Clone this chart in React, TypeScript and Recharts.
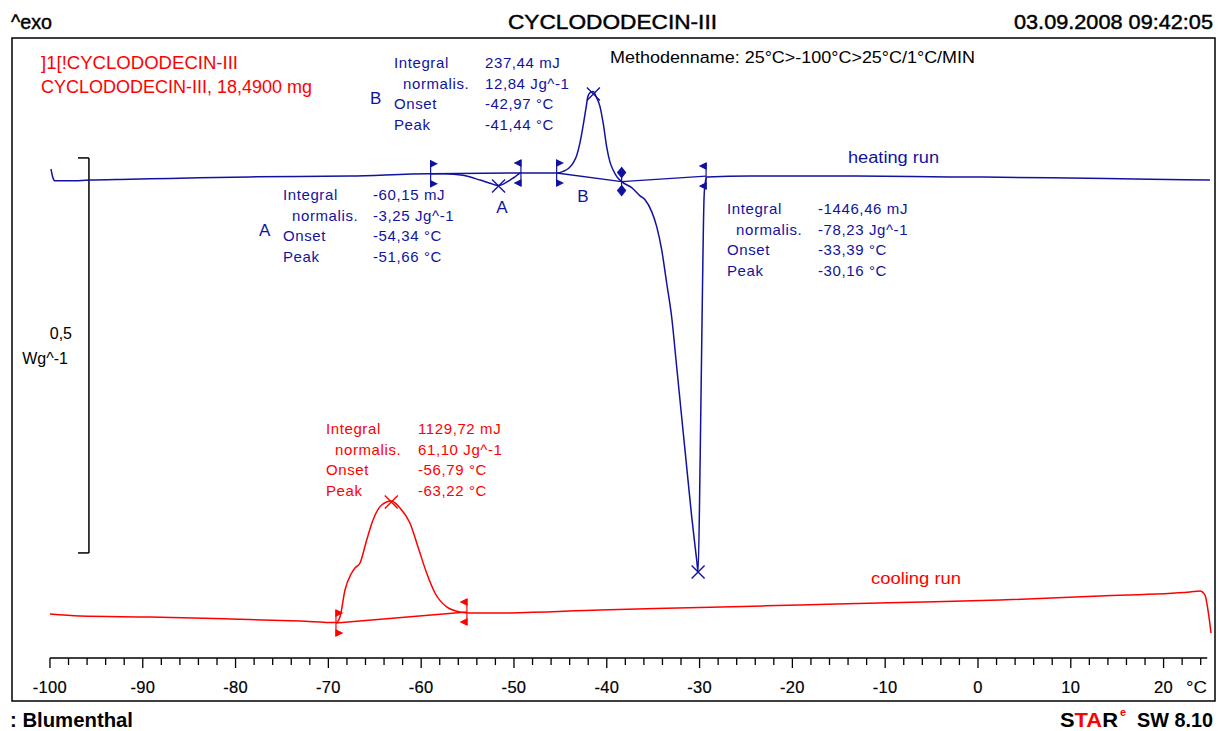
import { ComposedChart, Line, Scatter, XAxis, YAxis, ReferenceLine } from "recharts"

const W = 1218
const H = 731
// visible temperature window of the plot frame (°C) and signal window (W/g)
const X_MIN = -104.09
const X_MAX = 25.54
const Y_MAX = 0.7848

const BLUE = "#1212a0"
const RED = "#ff0000"
const FONT = "'Liberation Sans', Arial, sans-serif"

// heating run  [°C, W/g]
const heatingRun: [number, number][] = [
  [-99.89, 0.619], [-99.68, 0.608], [-99.46, 0.604], [-97.84, 0.604], [-95.8, 0.605],
  [-91.38, 0.606], [-87.07, 0.607], [-78.45, 0.609], [-67.67, 0.61], [-58.98, 0.613],
  [-57.44, 0.613], [-55.5, 0.611], [-53.66, 0.605], [-52.59, 0.601], [-51.66, 0.598],
  [-50.97, 0.601], [-50.43, 0.605], [-49.89, 0.609], [-49.25, 0.614], [-47.2, 0.614],
  [-45.4, 0.614], [-44.7, 0.616], [-44.1, 0.62], [-43.6, 0.627], [-43.24, 0.636], [-42.89, 0.652],
  [-42.56, 0.673], [-42.24, 0.696], [-42.03, 0.711], [-41.76, 0.716], [-41.44, 0.717],
  [-41.16, 0.711], [-40.73, 0.698], [-40.36, 0.675], [-40.01, 0.647], [-39.66, 0.628],
  [-39.33, 0.618], [-38.9, 0.609], [-38.4, 0.603], [-37.28, 0.595], [-36.42, 0.585],
  [-35.88, 0.58], [-35.16, 0.565], [-34.62, 0.546], [-34.08, 0.5165], [-33.55, 0.475],
  [-33.01, 0.432], [-32.47, 0.369], [-31.93, 0.305], [-31.39, 0.242], [-30.85, 0.179],
  [-30.31, 0.124], [-30.16, 0.109],
  [-29.94, 0.25], [-29.72, 0.44], [-29.51, 0.585], [-29.36, 0.604], [-29.2, 0.609],
  [-24.57, 0.61], [-13.79, 0.61], [-3.02, 0.609], [7.76, 0.608], [18.53, 0.606], [25.0, 0.605],
]

// cooling run  [°C, W/g]
const coolingRun: [number, number][] = [
  [-100, 0.0557], [-96.77, 0.0532], [-89.22, 0.0519], [-80.6, 0.0494], [-73.06, 0.0468],
  [-69.18, 0.0449], [-68.75, 0.0519], [-68.21, 0.0861], [-67.49, 0.1076], [-67.13, 0.1139],
  [-66.59, 0.1203], [-65.87, 0.1494], [-65.19, 0.1747], [-64.26, 0.1937], [-63.22, 0.1987],
  [-62.28, 0.1899], [-61.21, 0.1709], [-60.34, 0.1405], [-59.41, 0.1076], [-58.51, 0.0823],
  [-57.25, 0.0646], [-55.82, 0.0582], [-54.74, 0.057], [-51.51, 0.057], [-40.73, 0.0608],
  [-29.96, 0.0639], [-19.18, 0.0671], [-8.41, 0.0703], [2.37, 0.0734], [13.15, 0.0785],
  [22.84, 0.0835], [23.92, 0.0848], [24.46, 0.0797], [24.78, 0.0608], [25.11, 0.0316],
]

// integration baselines
const baselineA: [number, number][] = [[-58.98, 0.613], [-49.25, 0.614]]
const baselineB: [number, number][] = [[-45.4, 0.614], [-38.4, 0.603]]
const baselineC: [number, number][] = [[-38.4, 0.603], [-29.3, 0.61]]
const baselineCool: [number, number][] = [[-69.18, 0.0443], [-55.07, 0.0582]]

// peak markers and integration limits
const heatingPeaks: [number, number][] = [[-51.66, 0.5975], [-41.44, 0.714], [-30.16, 0.109]]
const coolingPeaks: [number, number][] = [[-63.22, 0.1975]]
const heatingLimits: [number, number, string][] = [
  [-58.98, 0.613, "r"], [-49.25, 0.614, "l"], [-45.4, 0.614, "r"], [-38.4, 0.603, "d"], [-29.3, 0.61, "l"],
]
const coolingLimits: [number, number, string][] = [[-69.18, 0.0443, "r"], [-55.07, 0.0582, "l"]]

const tableLabels = ["Integral", "normalis.", "Onset", "Peak"]
const resultsA = ["-60,15 mJ", "-3,25 Jg^-1", "-54,34 °C", "-51,66 °C"]
const resultsB = ["237,44 mJ", "12,84 Jg^-1", "-42,97 °C", "-41,44 °C"]
const resultsC = ["-1446,46 mJ", "-78,23 Jg^-1", "-33,39 °C", "-30,16 °C"]
const resultsCool = ["1129,72 mJ", "61,10 Jg^-1", "-56,79 °C", "-63,22 °C"]

const tempTicks = Array.from({ length: 63 }, (_, i) => -100 + i * 2)

const pts = (a: [number, number][]) => a.map(([t, v]) => ({ t, v }))
const flags = (a: [number, number, string][]) => a.map(([t, v, dir]) => ({ t, v, dir }))

function TempTick({ x, y, payload }: any) {
  const val = payload.value
  const major = val % 10 === 0
  return (
    <g>
      <line x1={x} y1={y} x2={x} y2={y + (major ? 10 : 7)} stroke="#000" strokeWidth={1.3} />
      {major && (
        <text x={x} y={y + 35} textAnchor="middle" fontSize={16.5} letterSpacing={0.3} fill="#000" stroke="#000" strokeWidth={0.2} fontFamily={FONT}>
          {val}
        </text>
      )}
    </g>
  )
}

function Cross({ cx, cy, fill }: any) {
  const s = 6.5
  return (
    <path d={`M${cx - s},${cy - s}L${cx + s},${cy + s}M${cx - s},${cy + s}L${cx + s},${cy - s}`} stroke={fill} strokeWidth={1.4} fill="none" />
  )
}

function Flag({ cx, cy, fill, payload }: any) {
  if (payload.dir === "d") {
    return (
      <g fill={fill} stroke={fill} strokeWidth={1.2}>
        <line x1={cx} y1={cy - 14} x2={cx} y2={cy + 14} />
        <path d={`M${cx},${cy - 14}L${cx + 4},${cy - 9}L${cx},${cy - 4}L${cx - 4},${cy - 9}Z`} />
        <path d={`M${cx},${cy + 4}L${cx + 4},${cy + 9}L${cx},${cy + 14}L${cx - 4},${cy + 9}Z`} />
      </g>
    )
  }
  const d = payload.dir === "r" ? 6 : -6
  return (
    <g fill={fill} stroke={fill} strokeWidth={1.2}>
      <line x1={cx} y1={cy - 13} x2={cx} y2={cy + 13} />
      <path d={`M${cx},${cy - 13}L${cx + d},${cy - 10}L${cx},${cy - 7}Z`} />
      <path d={`M${cx},${cy + 7}L${cx + d},${cy + 10}L${cx},${cy + 13}Z`} />
    </g>
  )
}

function ResultTable({ x, vx, y, values, color }: any) {
  return (
    <g fill={color} fontSize={15} letterSpacing={0.6}>
      {tableLabels.map((lab, i) => (
        <g key={lab}>
          <text x={x + (i === 1 ? 9 : 0)} y={y + i * 20.6}>{lab}</text>
          <text x={vx} y={y + i * 20.6}>{values[i]}</text>
        </g>
      ))}
    </g>
  )
}

export default function App() {
  return (
    <div style={{ position: "absolute", left: 0, top: 0, width: W, height: H, background: "#fff" }}>
      <ComposedChart width={W} height={H} margin={{ top: 38, right: 3, bottom: 30, left: 12 }}>
        <XAxis
          type="number"
          dataKey="t"
          domain={[X_MIN, X_MAX]}
          allowDataOverflow
          ticks={tempTicks}
          interval={0}
          tick={<TempTick />}
          tickLine={false}
          axisLine={false}
          tickSize={0}
          tickMargin={0}
          height={43}
        />
        <YAxis type="number" dataKey="v" domain={[0, Y_MAX]} allowDataOverflow hide />

        {/* x axis line */}
        <ReferenceLine segment={[{ x: -100, y: 0 }, { x: 24.7, y: 0 }]} stroke="#000" strokeWidth={1.5} ifOverflow="visible" />
        {/* 0,5 W/g scale bar */}
        <ReferenceLine segment={[{ x: -95.8, y: 0.633 }, { x: -95.8, y: 0.133 }]} stroke="#000" strokeWidth={1.5} />
        <ReferenceLine segment={[{ x: -96.98, y: 0.633 }, { x: -95.8, y: 0.633 }]} stroke="#000" strokeWidth={1.5} />
        <ReferenceLine segment={[{ x: -96.98, y: 0.133 }, { x: -95.8, y: 0.133 }]} stroke="#000" strokeWidth={1.5} />

        <Line data={pts(baselineA)} dataKey="v" type="linear" stroke={BLUE} strokeWidth={1.4} dot={false} isAnimationActive={false} />
        <Line data={pts(baselineB)} dataKey="v" type="linear" stroke={BLUE} strokeWidth={1.4} dot={false} isAnimationActive={false} />
        <Line data={pts(baselineC)} dataKey="v" type="linear" stroke={BLUE} strokeWidth={1.4} dot={false} isAnimationActive={false} />
        <Line data={pts(baselineCool)} dataKey="v" type="linear" stroke={RED} strokeWidth={1.4} dot={false} isAnimationActive={false} />

        <Line data={pts(heatingRun)} dataKey="v" type="monotone" stroke={BLUE} strokeWidth={1.5} dot={false} isAnimationActive={false} />
        <Line data={pts(coolingRun)} dataKey="v" type="monotone" stroke={RED} strokeWidth={1.5} dot={false} isAnimationActive={false} />

        <Scatter data={pts(heatingPeaks)} dataKey="v" fill={BLUE} shape={(p: any) => <Cross {...p} fill={BLUE} />} isAnimationActive={false} />
        <Scatter data={pts(coolingPeaks)} dataKey="v" fill={RED} shape={(p: any) => <Cross {...p} fill={RED} />} isAnimationActive={false} />
        <Scatter data={flags(heatingLimits)} dataKey="v" fill={BLUE} shape={(p: any) => <Flag {...p} fill={BLUE} />} isAnimationActive={false} />
        <Scatter data={flags(coolingLimits)} dataKey="v" fill={RED} shape={(p: any) => <Flag {...p} fill={RED} />} isAnimationActive={false} />
      </ComposedChart>

      <svg width={W} height={H} style={{ position: "absolute", left: 0, top: 0, pointerEvents: "none" }} fontFamily={FONT}>
        <rect x={12} y={38} width={1203} height={663} fill="none" stroke="#000" strokeWidth={1.5} />

        <g stroke="#000" strokeWidth={0.45}>
          <text x={11} y={29} fontSize={21} textLength={41} lengthAdjust="spacingAndGlyphs">^exo</text>
          <text x={508} y={29} fontSize={21} textLength={209} lengthAdjust="spacingAndGlyphs">CYCLODODECIN-III</text>
          <text x={1014} y={29} fontSize={21} textLength={199} lengthAdjust="spacingAndGlyphs">03.09.2008 09:42:05</text>
        </g>

        <text x={41} y={69} fontSize={18} fill={RED} textLength={197} lengthAdjust="spacingAndGlyphs">]1[!CYCLODODECIN-III</text>
        <text x={41} y={93} fontSize={18} fill={RED} textLength={271} lengthAdjust="spacingAndGlyphs">CYCLODODECIN-III, 18,4900 mg</text>
        <text x={610} y={63} fontSize={16} textLength={365} lengthAdjust="spacingAndGlyphs">Methodenname: 25°C&gt;-100°C&gt;25°C/1°C/MIN</text>

        <ResultTable x={394} vx={485} y={68} values={resultsB} color={BLUE} />
        <text x={370} y={104} fontSize={17} fill={BLUE}>B</text>
        <ResultTable x={283} vx={373} y={200} values={resultsA} color={BLUE} />
        <text x={259} y={236} fontSize={17} fill={BLUE}>A</text>
        <ResultTable x={727} vx={818} y={214} values={resultsC} color={BLUE} />
        <ResultTable x={326} vx={418} y={434} values={resultsCool} color={RED} />

        <text x={502} y={213} fontSize={17} fill={BLUE} textAnchor="middle">A</text>
        <text x={583} y={202} fontSize={17} fill={BLUE} textAnchor="middle">B</text>

        <text x={848} y={163} fontSize={16} fill={BLUE} textLength={91} lengthAdjust="spacingAndGlyphs">heating run</text>
        <text x={871} y={584} fontSize={16} fill={RED} textLength={90} lengthAdjust="spacingAndGlyphs">cooling run</text>

        <text x={72} y={339} fontSize={16} textAnchor="end">0,5</text>
        <text x={68} y={364} fontSize={16} textAnchor="end">Wg^-1</text>
        <text x={1186} y={693} fontSize={17} textLength={21} lengthAdjust="spacingAndGlyphs">°C</text>

        <text x={10} y={727} fontSize={20} fontWeight="bold" textLength={123} lengthAdjust="spacingAndGlyphs">: Blumenthal</text>
        <text x={1060} y={727} fontSize={20} fontWeight="bold" textLength={58} lengthAdjust="spacingAndGlyphs">
          <tspan>S</tspan>
          <tspan fill={RED}>TA</tspan>
          <tspan>R</tspan>
        </text>
        <text x={1120} y={716} fontSize={11} fontWeight="bold" fill={RED}>e</text>
        <text x={1137} y={727} fontSize={20} fontWeight="bold" textLength={76} lengthAdjust="spacingAndGlyphs">SW 8.10</text>
      </svg>
    </div>
  )
}
